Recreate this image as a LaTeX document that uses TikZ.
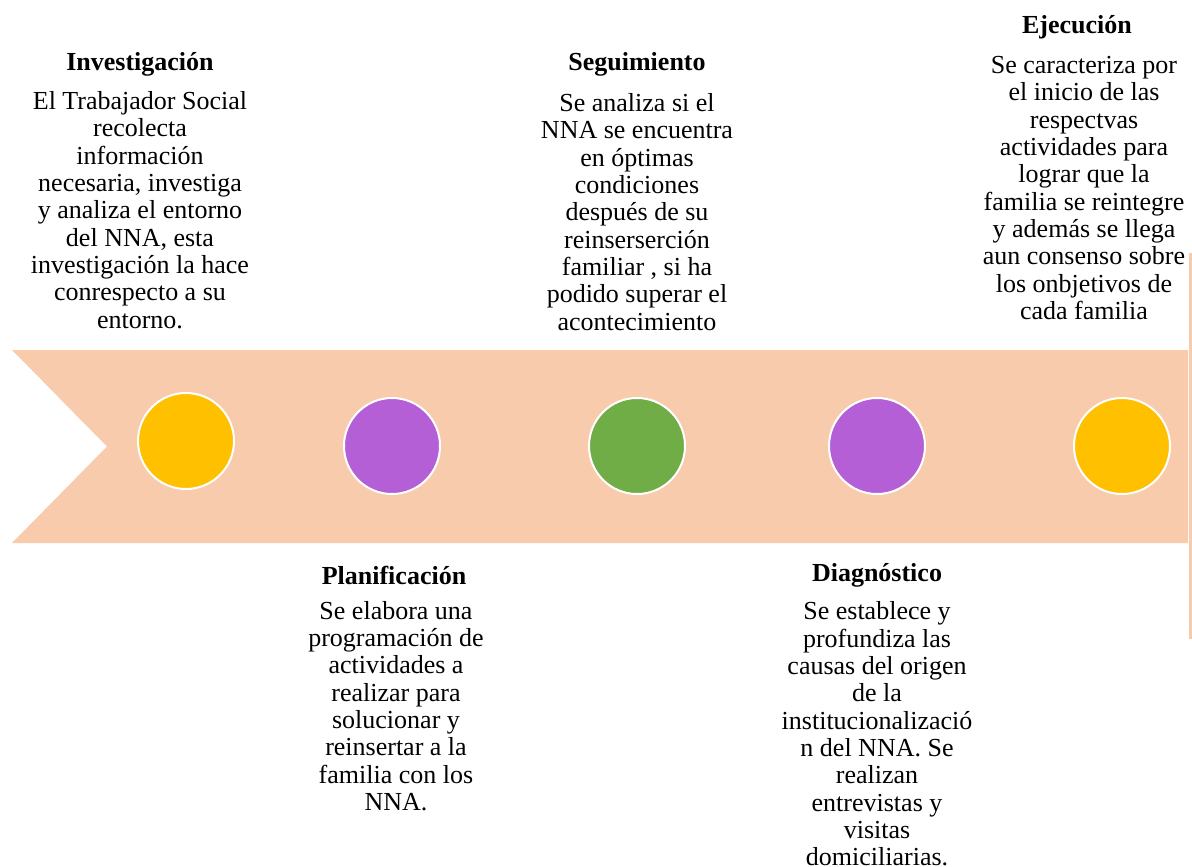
\documentclass[tikz,border=0pt]{standalone}
\usepackage{fontspec}
\setmainfont{Liberation Serif}
\definecolor{peach}{HTML}{F8CBAD}
\definecolor{gold}{HTML}{FFC000}
\definecolor{violet}{HTML}{B45FD6}
\definecolor{leaf}{HTML}{70AD47}
\tikzset{
  dot/.style={circle, draw=white, line width=2pt, minimum size=96pt, inner sep=0pt},
  ttl/.style={font=\fontsize{26}{27.3}\selectfont\bfseries, inner sep=0pt},
  body/.style={font=\fontsize{26}{27.3}\selectfont, align=center, inner sep=0pt},
}
\begin{document}
\begin{tikzpicture}[x=1pt, y=-1pt]
\useasboundingbox (0,0) rectangle (1192,867);
% band
\fill[peach] (12,350) -- (1188,350) -- (1188,543) -- (12,543) -- (107,446.5) -- cycle;
\fill[peach] (1189,253) rectangle (1192,639);
% circles
\node[dot, fill=gold]   (c1) at (186,441) {};
\node[dot, fill=violet] (c2) at (392,446) {};
\node[dot, fill=leaf]   (c3) at (637,446) {};
\node[dot, fill=violet] (c4) at (877,446) {};
\node[dot, fill=gold]   (c5) at (1122,446) {};
% texts
\node[ttl] (t1) at (140,64) {Investigación};
\node[body] (b1) at (140,210) {El Trabajador Social\\recolecta\\información\\necesaria, investiga\\y analiza el entorno\\del NNA, esta\\investigación la hace\\conrespecto a su\\entorno.};
\node[ttl] (t3) at (637,64) {Seguimiento};
\node[body] (b3) at (637,212) {Se analiza si el\\NNA se encuentra\\en óptimas\\condiciones\\después de su\\reinserserción\\familiar , si ha\\podido superar el\\acontecimiento};
\node[ttl] (t5) at (1077,27) {Ejecución};
\node[body] (b5) at (1084,188) {Se caracteriza por\\el inicio de las\\respectvas\\actividades para\\lograr que la\\familia se reintegre\\y además se llega\\aun consenso sobre\\los onbjetivos de\\cada familia};
\node[ttl] (t2) at (394,575) {Planificación};
\node[body] (b2) at (396,706) {Se elabora una\\programación de\\actividades a\\realizar para\\solucionar y\\reinsertar a la\\familia con los\\NNA.};
\node[ttl] (t4) at (877,575) {Diagnóstico};
\node[body] (b4) at (877,734) {Se establece y\\profundiza las\\causas del origen\\de la\\institucionalizació\\n del NNA. Se\\realizan\\entrevistas y\\visitas\\domiciliarias.};
\end{tikzpicture}
\end{document}
